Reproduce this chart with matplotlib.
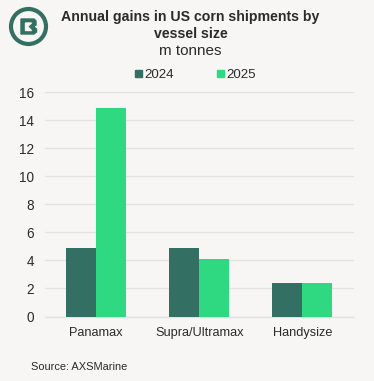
#!/usr/bin/env python
"""Annual gains in US corn shipments by vessel size."""

import matplotlib

matplotlib.use("Agg")
import matplotlib.pyplot as plt
import numpy as np
from matplotlib.patches import Circle, Polygon

categories = ["Panamax", "Supra/Ultramax", "Handysize"]
values_2024 = [4.9, 4.85, 2.4]
values_2025 = [14.85, 4.1, 2.38]
y_ticks = [0, 2, 4, 6, 8, 10, 12, 14, 16]

BG = "#f7f6f4"
DARK = "#337063"
LIGHT = "#2ed982"
TEXT = "#2b2b2b"
W, H = 374, 381

plt.rcParams["font.family"] = ["Liberation Sans", "DejaVu Sans"]

fig = plt.figure(figsize=(W / 100, H / 100), dpi=100, facecolor=BG)

ax = fig.add_axes([44.5 / W, 1 - 316.5 / H, 309.5 / W, 224.5 / H], facecolor=BG)
x = np.arange(len(categories))
width = 30 / 103
ax.bar(x - width / 2, values_2024, width, color=DARK, zorder=3)
ax.bar(x + width / 2, values_2025, width, color=LIGHT, zorder=3)
ax.set_xlim(-0.5, 2.5)
ax.set_ylim(0, 16)
ax.set_xticks(x, categories)
ax.set_yticks(y_ticks)
ax.tick_params(axis="x", length=0, labelsize=9.2, labelcolor=TEXT, pad=7.5)
ax.tick_params(axis="y", length=0, labelsize=9.8, labelcolor=TEXT, pad=7.5)
ax.grid(axis="y", color="#e2e2e0", linewidth=1, zorder=0)
ax.set_axisbelow(True)
for side in ax.spines:
    ax.spines[side].set_visible(False)
ax.axhline(0, color="#e2e2e0", linewidth=1, zorder=2, clip_on=False)

# overlay in pixel coordinates for header, legend and logo
over = fig.add_axes([0, 0, 1, 1], facecolor="none")
over.set_xlim(0, W)
over.set_ylim(H, 0)
over.axis("off")

over.text(190.5, 17, "Annual gains in US corn shipments by", ha="center", va="center",
          fontsize=10.2, fontweight="bold", color=TEXT)
over.text(190.5, 34, "vessel size", ha="center", va="center",
          fontsize=10.2, fontweight="bold", color=TEXT)
over.text(190.5, 51, "m tonnes", ha="center", va="center", fontsize=11, color=TEXT)

over.add_patch(plt.Rectangle((135.5, 70), 6.5, 6.5, color=DARK))
over.text(144, 74.5, "2024", ha="left", va="center", fontsize=9.6, color=TEXT)
over.add_patch(plt.Rectangle((217.5, 70), 6.5, 6.5, color=LIGHT))
over.text(226, 74.5, "2025", ha="left", va="center", fontsize=9.6, color=TEXT)

over.text(31, 367, "Source: AXSMarine", ha="left", va="center", fontsize=7.9, color=TEXT)

over.add_patch(Circle((28.5, 26.5), 17.5, fill=False, edgecolor=DARK, linewidth=3.0))
over.add_patch(Polygon([(21, 19), (34, 19), (36, 21), (36, 25), (33.5, 26.5), (36.5, 29),
                        (36.5, 32), (34, 34), (21, 34)], color=DARK))
over.add_patch(Polygon([(25.5, 23), (31.5, 23), (27.5, 26.5), (31.5, 30.5), (25.5, 30.5)], color=BG))

fig.savefig("out.png", dpi=100, facecolor=BG)
